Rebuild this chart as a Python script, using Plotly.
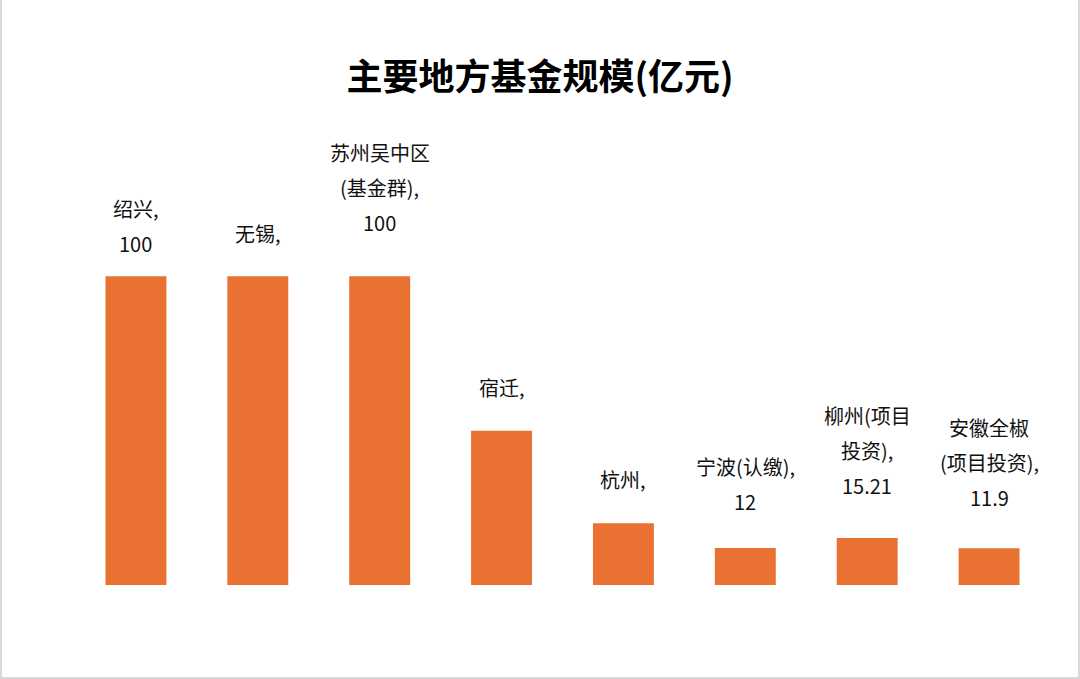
import plotly.graph_objects as go

# 主要地方基金规模(亿元)
cities = ["绍兴", "无锡", "苏州吴中区", "宿迁", "杭州", "宁波", "柳州", "安徽全椒"]
scale = [100, 100, 100, 50, 20, 12, 15.21, 11.9]
labels = [
    "绍兴,\n100",
    "无锡,",
    "苏州吴中区\n(基金群),\n100",
    "宿迁,",
    "杭州,",
    "宁波(认缴),\n12",
    "柳州(项目\n投资),\n15.21",
    "安徽全椒\n(项目投资),\n11.9",
]

# label placement (px above bar top for last line), line spacing
label_gap = [33, 43, 54, 43, 44, 46, 53, 51]
line_step = 35

W, H = 1080, 679
ML, MR, MT, MB = 75, 30, 91, 94
font = "Noto Sans CJK SC"

fig = go.Figure()
fig.add_trace(go.Bar(
    x=cities,
    y=scale,
    marker_color="#E97132",
    marker_line_width=0,
    hoverinfo="x+y",
))

annotations = []
for i, lab in enumerate(labels):
    lines = lab.split("\n")
    n = len(lines)
    for j, line in enumerate(lines):
        annotations.append(dict(
            x=cities[i], y=scale[i], xref="x", yref="y",
            text=line, showarrow=False,
            yanchor="middle", xanchor="center",
            yshift=label_gap[i] + (n - 1 - j) * line_step,
            font=dict(family=font, size=20, color="#111111"),
        ))

pw = W - ML - MR
ph = H - MT - MB
fig.add_shape(
    type="rect", xref="paper", yref="paper",
    x0=(1 - ML) / pw, x1=(W - 1 - ML) / pw,
    y0=-(MB - 1) / ph, y1=(H - MT - 1) / ph,
    line=dict(color="#d9d9d9", width=2),
    fillcolor="rgba(0,0,0,0)", layer="below",
)

fig.update_layout(
    width=W, height=H,
    margin=dict(l=ML, r=MR, t=MT, b=MB),
    paper_bgcolor="white", plot_bgcolor="white",
    bargap=0.5,
    showlegend=False,
    title=dict(
        text="<b>主要地方基金规模(亿元)</b>",
        x=0.5, xanchor="center", y=1 - 77 / H, yanchor="middle",
        font=dict(family=font, size=36, color="#000000"),
    ),
    xaxis=dict(showticklabels=False, showgrid=False, zeroline=False, showline=False, ticks=""),
    yaxis=dict(range=[0, 160], visible=False),
    annotations=annotations,
)

# drop the default page margin so the figure sits at the window corner
fig.write_html("out.html", config={"displayModeBar": False},
               post_script="document.body.style.margin='0';")
